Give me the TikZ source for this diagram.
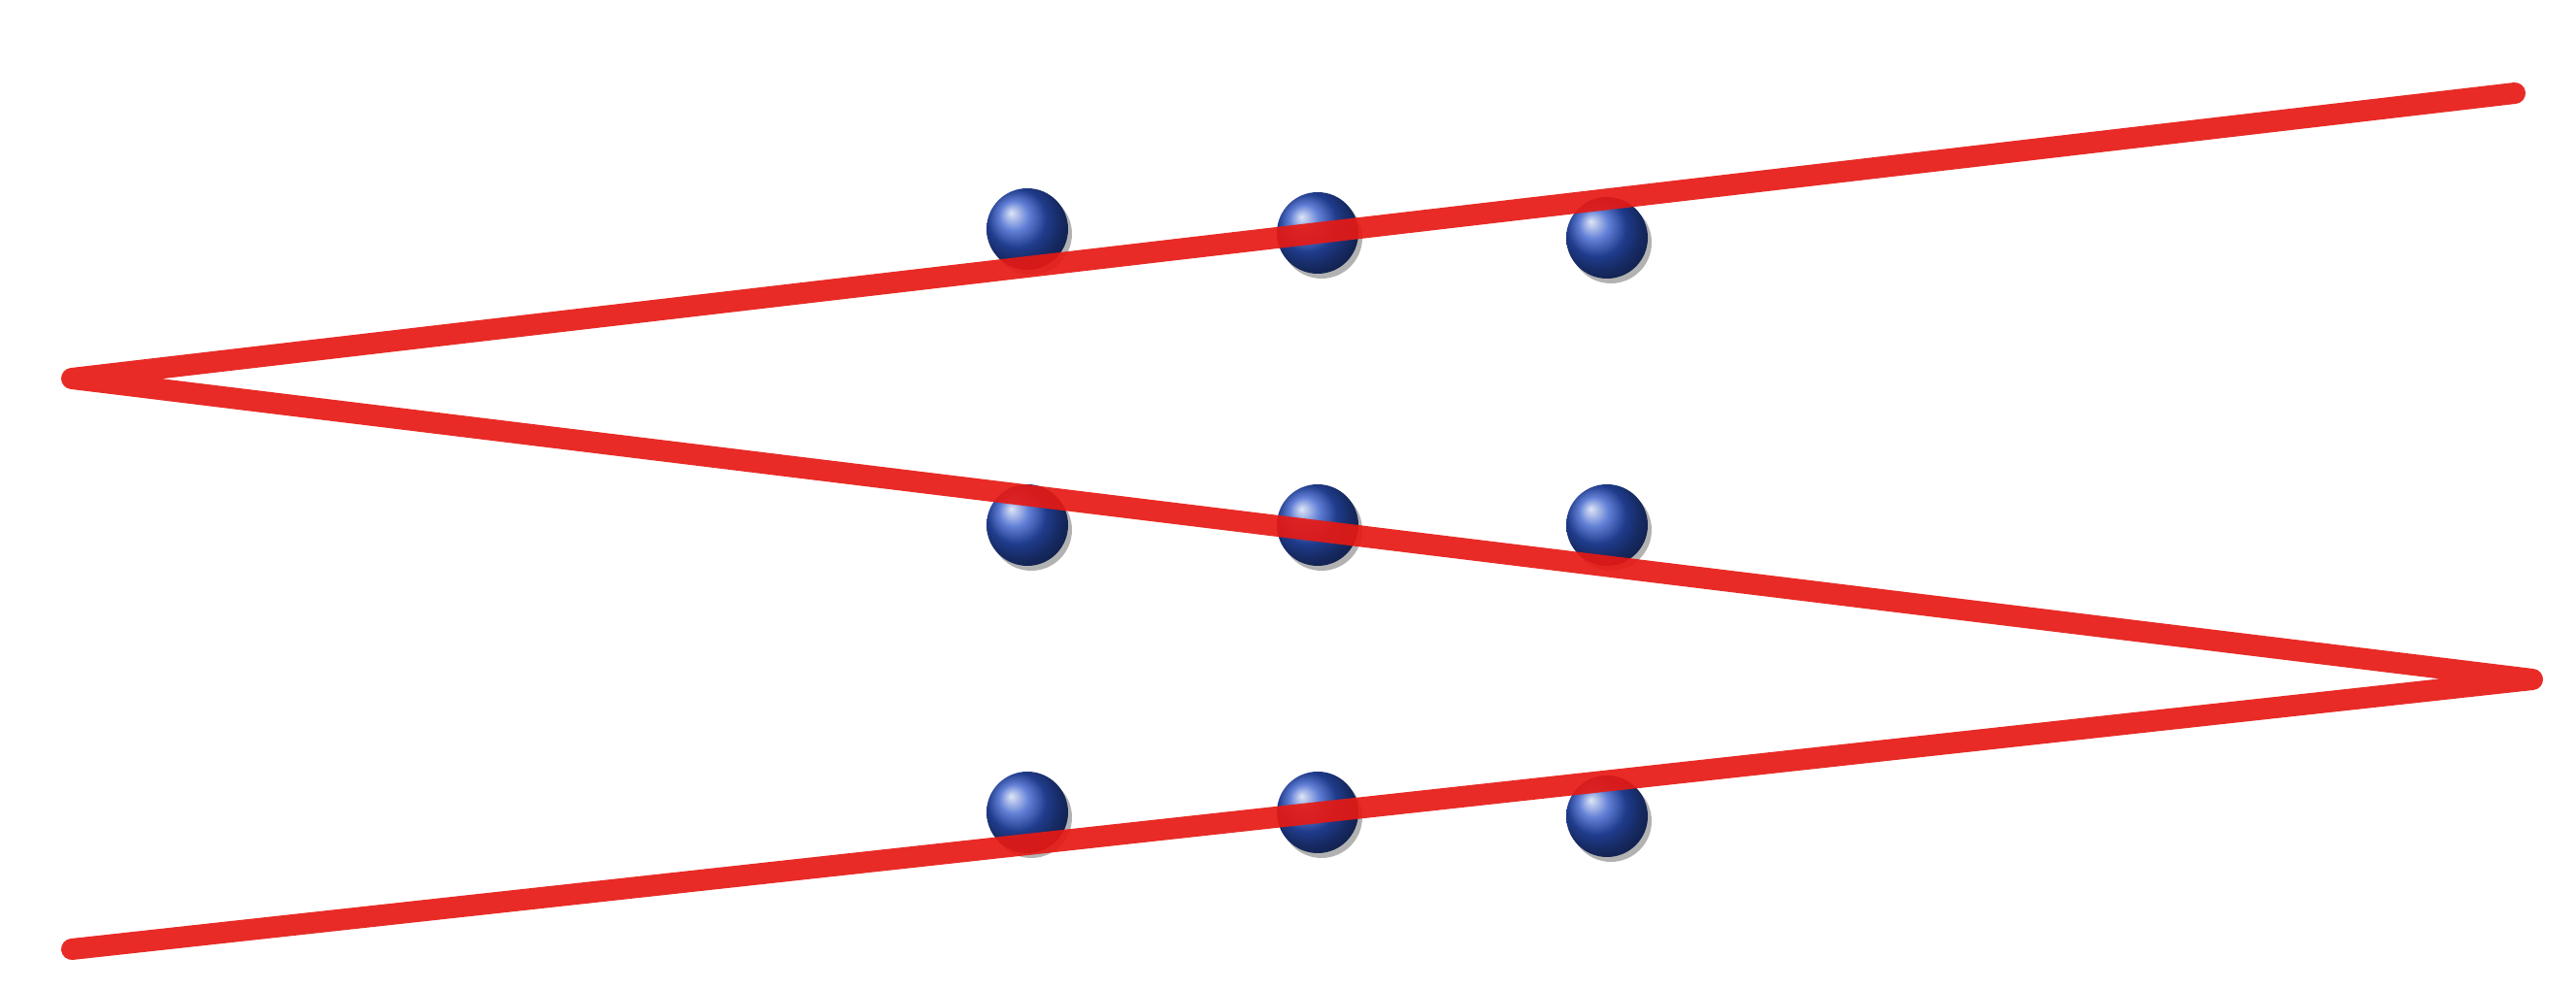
\documentclass[tikz,border=0pt]{standalone}
\usetikzlibrary{shadows}
\definecolor{ballblue}{RGB}{45,85,200}
\definecolor{zred}{RGB}{230,25,20}
\tikzset{
  ball/.style={circle, minimum size=0.84cm, inner sep=0pt, ball color=ballblue, draw=none,
    drop shadow={shadow xshift=0.04cm, shadow yshift=-0.05cm, opacity=0.3, fill=black}},
  zline/.style={draw=zred, line width=0.22cm, line cap=round, line join=round, opacity=0.92}
}
\begin{document}
\begin{tikzpicture}
\useasboundingbox (0,0) rectangle (26.53,10.19);
% dots
\node[ball] (d11) at (10.58,7.83) {};
\node[ball] (d12) at (13.57,7.79) {};
\node[ball] (d13) at (16.55,7.74) {};
\node[ball] (d21) at (10.58,4.78) {};
\node[ball] (d22) at (13.57,4.78) {};
\node[ball] (d23) at (16.55,4.78) {};
\node[ball] (d31) at (10.58,1.82) {};
\node[ball] (d32) at (13.57,1.82) {};
\node[ball] (d33) at (16.55,1.78) {};
% zigzag line
\coordinate (a) at (25.90,9.23);
\coordinate (b) at (0.74,6.29);
\coordinate (c) at (26.08,3.19);
\coordinate (d) at (0.74,0.41);
\draw[zline] (a) -- (b) -- (c) -- (d);
\end{tikzpicture}
\end{document}
